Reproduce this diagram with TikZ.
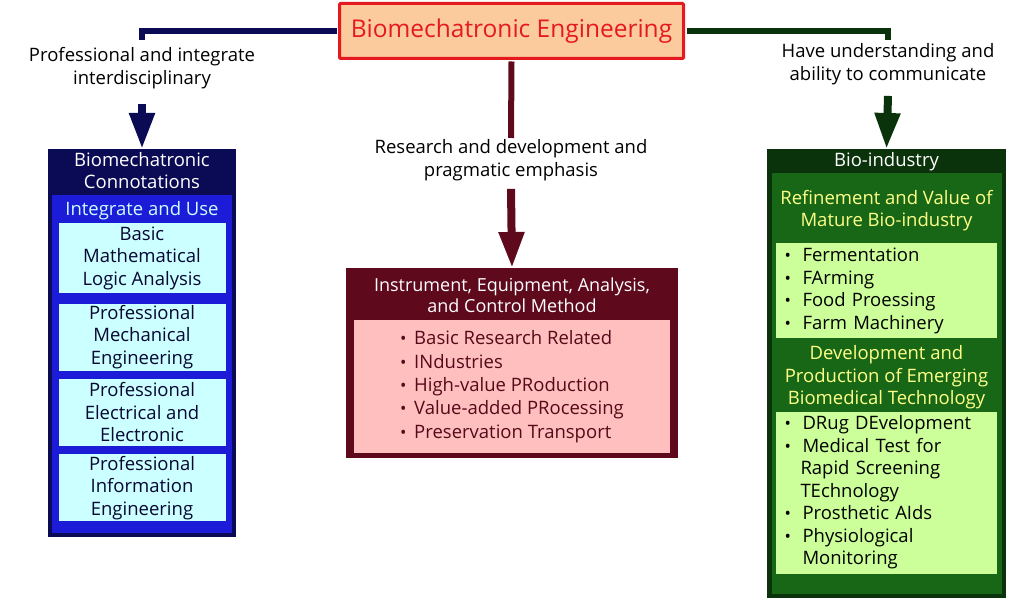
\documentclass[tikz,border=0pt]{standalone}
\usepackage{fontspec}
\setmainfont{Open Sans}
\usetikzlibrary{arrows.meta,positioning}
\definecolor{BioRed}{HTML}{E51A1E}
\definecolor{BioPeach}{HTML}{FBCB9D}
\definecolor{BioNavy}{HTML}{0B0B55}
\definecolor{BioBlue}{HTML}{1C1CD8}
\definecolor{BioCyan}{HTML}{CCFFFF}
\definecolor{BioMaroon}{HTML}{5E0A1C}
\definecolor{BioPink}{HTML}{FFBFBF}
\definecolor{BioPine}{HTML}{0B330B}
\definecolor{BioGreen}{HTML}{176717}
\definecolor{BioLime}{HTML}{CCFF99}
\definecolor{BioYellow}{HTML}{FFFF88}
\newcommand\dotitem[1][14pt]{\makebox[#1][l]{\fontsize{17}{17}\selectfont\textbullet}}
\tikzset{
  titlebox/.style={draw=BioRed,line width=3pt,fill=BioPeach,text=BioRed,rounded corners=1pt,font=\fontsize{24.5}{28}\selectfont,minimum width=344pt,minimum height=55pt},
  panel/.style={fill=#1,inner sep=0pt,anchor=north},
  card/.style={fill=#1,inner sep=0pt,align=center,text=BioNavy!60!black,font=\fontsize{18.5}{22.5}\selectfont},
  heading/.style={text=#1,inner sep=0pt,align=center,font=\fontsize{18.5}{22.5}\selectfont},
  note/.style={inner sep=0pt,align=center,font=\fontsize{18.5}{23}\selectfont},
  linkline/.style={line width=6pt,draw=#1},
  fatarrow/.style={-{Triangle[length=36pt,width=24pt]},line width=8pt,draw=#1}
}
\begin{document}
\begin{tikzpicture}[x=1pt,y=-1pt]
\useasboundingbox (0,0) rectangle (1020,601);
% title and its three links
\coordinate (lstub) at (142,40);
\coordinate (rstub) at (888,40);
\coordinate (cstub) at (511,138);
\node[titlebox] (top) at (511.5,31) {Biomechatronic Engineering};
\draw[linkline=BioNavy] ([xshift=-1.5pt]top.west) -| (lstub);
\draw[linkline=BioPine] ([xshift=1.5pt]top.east) -| (rstub);
\draw[linkline=BioMaroon] ([yshift=-1.5pt]top.south) -- (cstub);
\node[note] (lnote) at (142,68) {Professional and integrate\\interdisciplinary};
\node[note] (rnote) at (888,64) {Have understanding and\\ability to communicate};
\node[note] (cnote) at (511,160) {Research and development and\\pragmatic emphasis};
% left column
\node[panel=BioNavy,minimum width=188pt,minimum height=388pt] (conn) at (142,149) {};
\node[heading=white,below=3pt of conn.north] (conntitle) {Biomechatronic\\Connotations};
\node[panel=BioBlue,anchor=south,minimum width=180pt,minimum height=338pt,above=4pt of conn.south] (use) {};
\node[heading=BioCyan,below=6pt of use.north] (usetitle) {Integrate and Use};
\node[card=BioCyan,anchor=north,minimum width=167pt,minimum height=70pt,below=28pt of use.north] (math) {Basic\\Mathematical\\Logic Analysis};
\node[card=BioCyan,minimum width=167pt,minimum height=67pt,below=10pt of math] (mech) {Professional\\Mechanical\\Engineering};
\node[card=BioCyan,minimum width=167pt,minimum height=67pt,below=8pt of mech] (elec) {Professional\\Electrical and\\Electronic};
\node[card=BioCyan,minimum width=167pt,minimum height=67pt,below=8pt of elec] (info) {Professional\\Information\\Engineering};
% middle column
\node[panel=BioMaroon,minimum width=332pt,minimum height=190pt] (instr) at (512,268) {};
\node[heading=white,below=10pt of instr.north,font=\fontsize{18}{21}\selectfont] (instrtitle) {Instrument, Equipment, Analysis,\\and Control Method};
\node[card=BioPink,anchor=north,minimum width=316pt,minimum height=133pt,align=left,text=BioMaroon!90!black,font=\fontsize{18.5}{23.3}\selectfont,below=52pt of instr.north] (instrlist)
  {\dotitem Basic Research Related\\\dotitem INdustries\\\dotitem High-value PRoduction\\\dotitem Value-added PRocessing\\\dotitem Preservation Transport};
% right column
\node[panel=BioPine,minimum width=239pt,minimum height=449pt] (bio) at (886.5,149) {};
\node[heading=white,below=3pt of bio.north] (biotitle) {Bio-industry};
\node[panel=BioGreen,anchor=south,minimum width=230pt,minimum height=421pt,above=4pt of bio.south] (bioin) {};
\node[heading=BioYellow,below=17pt of bioin.north] (maturetitle) {Refinement and Value of\\Mature Bio-industry};
\node[card=BioLime,anchor=north,minimum width=221pt,minimum height=95pt,text width=204pt,align=left,text=black,below=70pt of bioin.north] (mature)
  {\dotitem[18pt]Fermentation\\\dotitem[18pt]FArming\\\dotitem[18pt]Food Proessing\\\dotitem[18pt]Farm Machinery};
\node[heading=BioYellow,below=7pt of mature] (emergetitle) {Development and\\Production of Emerging\\Biomedical Technology};
\node[card=BioLime,minimum width=221pt,minimum height=162pt,text width=204pt,align=left,text=black,below=73pt of mature] (emerge)
  {\dotitem[18pt]DRug DEvelopment\\\dotitem[18pt]Medical Test for\\\hspace*{16pt}Rapid Screening\\\hspace*{16pt}TEchnology\\\dotitem[18pt]Prosthetic AIds\\\dotitem[18pt]Physiological\\\hspace*{18pt}Monitoring};
% arrows into the columns
\draw[fatarrow=BioNavy] ([yshift=-15pt]lnote.south) -- (conn.north);
\draw[fatarrow=BioPine] ([yshift=-11pt]rnote.south) -- (bio.north);
\draw[fatarrow=BioMaroon] ([yshift=-8pt]cnote.south) -- (instr.north);
\end{tikzpicture}
\end{document}
